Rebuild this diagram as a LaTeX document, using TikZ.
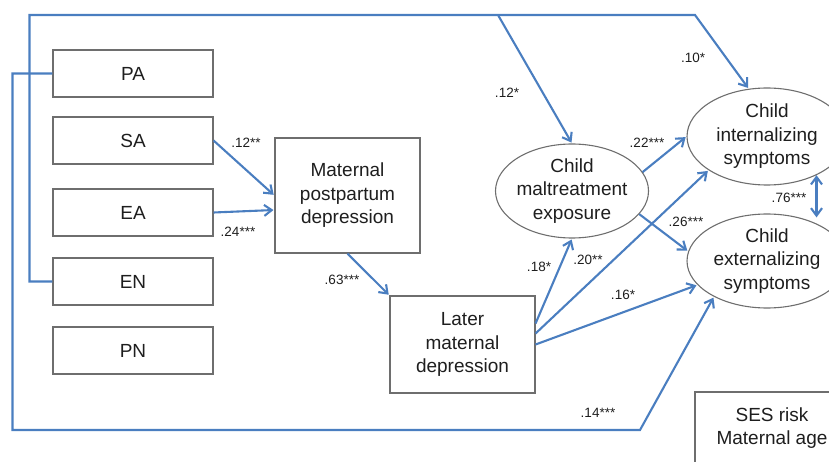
\documentclass[tikz,border=0pt]{standalone}
\usepackage{fontspec}
\setmainfont{Liberation Sans}
\usetikzlibrary{positioning, shapes.geometric, arrows.meta}
\definecolor{pathblue}{RGB}{74,126,192}
\definecolor{boxgray}{RGB}{110,110,110}
\definecolor{inkgray}{RGB}{30,30,30}

\tikzset{
  varbox/.style={draw=boxgray, line width=1.1pt, text=inkgray, align=center,
    font=\fontsize{19}{23.5}\selectfont, minimum width=160pt, minimum height=47pt},
  outcome/.style={varbox, ellipse, inner xsep=-5pt, inner ysep=0pt},
  coef/.style={text=inkgray, font=\fontsize{13.5}{15}\selectfont, inner sep=0pt},
  link/.style={draw=pathblue, line width=2.1pt, ->, shorten >=1pt}
}

\begin{document}
\begin{tikzpicture}[x=1pt, y=-1pt, >={Straight Barb[length=7.5pt,width=11pt]},
    node distance=69pt, on grid]
  \useasboundingbox (0,0) rectangle (829,462);

  % Define predictors
  \node[varbox] (PA) at (133,73.5) {PA};
  \node[varbox] (SA) [below=67pt of PA] {SA};
  \node[varbox] (EA) [below=72pt of SA] {EA};
  \node[varbox] (EN) [below=of EA] {EN};
  \node[varbox] (PN) [below=of EN] {PN};

  % Define mediators and outcomes
  \node[varbox, minimum width=145pt, minimum height=115pt] (MPD) at (347.5,195.5) {Maternal\\postpartum\\depression};
  \node[varbox, minimum width=145pt, minimum height=97pt] (Later) at (462.5,344.5) {Later\\maternal\\depression};
  \node[outcome, minimum width=153pt, minimum height=94pt] (Malt) at (572,191) {Child\\maltreatment\\exposure};
  \node[outcome, minimum width=160pt, minimum height=97pt] (Int) at (767,136.5) {Child\\internalizing\\symptoms};
  \node[outcome, minimum width=160pt, minimum height=94pt] (Ext) at (767,261) {Child\\externalizing\\symptoms};
  \node[varbox, minimum width=154pt, minimum height=72pt] (SES) at (772,428) {SES risk\\Maternal age};

  % Bends of the long paths
  \coordinate (topsplit) at (498,15);
  \coordinate (topbend) at (695,15);
  \coordinate (lowbend) at (640,430);

  % Define paths
  \draw[link] (SA.east) -- (MPD.west);
  \draw[link] (EA.east) -- ([yshift=-14.5pt]MPD.west);
  \draw[link] (MPD.south) -- (Later.north west);
  \draw[link] ([yshift=21pt]Later.east) -- (Malt.south);
  \draw[link] ([yshift=11pt]Later.east) -- (Int.210);
  \draw[link] (Later.east) -- (Ext.199);
  \draw[link] (Malt.15) -- (Int.west);
  \draw[link] (Malt.-19) -- (Ext.173);
  \draw[link, <->] (Int.-38) -- (Int.-38 |- Ext.50);
  \draw[link] (PA.west) -- ++(-40,0) |- (lowbend) -- (Ext.214);
  \draw[link] (EN.west) -- ++(-23,0) |- (topbend) -- (Int.111);
  \draw[link] (topsplit) -- (Malt.north);

  % Path coefficients
  \node[coef] (cSA) at (246,143) {.12**};
  \node[coef] (cEA) at (238,232) {.24***};
  \node[coef] (cMPD) at (342,280) {.63***};
  \node[coef] (cENmalt) at (507,93) {.12*};
  \node[coef] (cENint) at (693,58) {.10*};
  \node[coef] (cMaltint) at (647,143) {.22***};
  \node[coef] (cMaltext) at (686,222) {.26***};
  \node[coef] (cIntext) at (789,198) {.76***};
  \node[coef] (cLatermalt) at (539,267) {.18*};
  \node[coef] (cLaterint) at (588,260) {.20**};
  \node[coef] (cLaterext) at (623,295) {.16*};
  \node[coef] (cPAext) at (598,413) {.14***};
\end{tikzpicture}
\end{document}
